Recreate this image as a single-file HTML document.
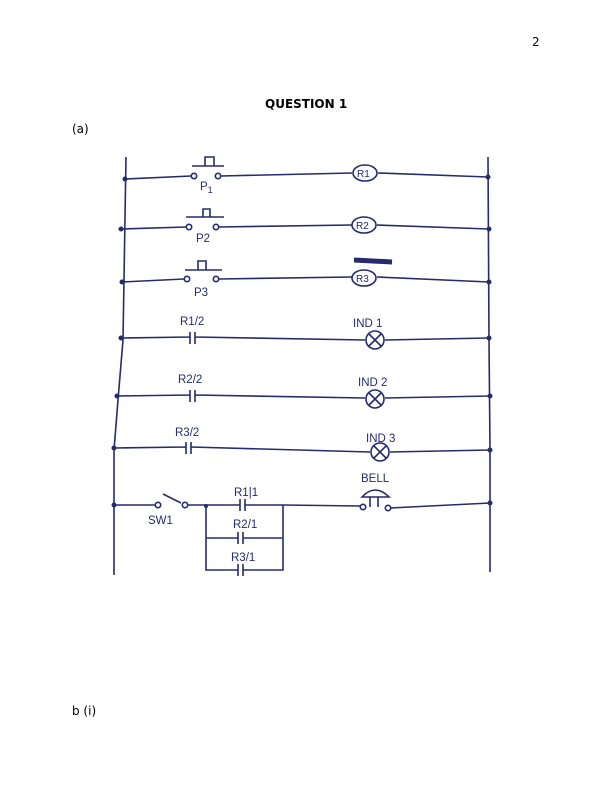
<!DOCTYPE html>
<html><head><style>
body{margin:0;background:#fff;width:612px;height:792px;position:relative;font-family:"DejaVu Sans","Liberation Sans",sans-serif;}
.t{position:absolute;font-size:12px;color:#000;}
svg{position:absolute;left:0;top:0;}
</style></head><body>
<div class="t" style="left:532px;top:35px;">2</div>
<div class="t" style="left:265px;top:97px;font-weight:bold;">QUESTION 1</div>
<div class="t" style="left:72px;top:122px;">(a)</div>
<div class="t" style="left:72px;top:704px;">b (i)</div>
<svg width="612" height="792" viewBox="0 0 612 792" fill="none" stroke="#252b6c" stroke-width="1.6" font-family="Liberation Sans, sans-serif">
<path d="M126 157 L123 340 L118 400 L114 450 L114 575"/>
<path d="M488 157 L489 340 L490 450 L490 572"/>
<g fill="#252b6c" stroke="none">
<circle cx="125" cy="179" r="2.5"/><circle cx="121" cy="229" r="2.5"/><circle cx="122" cy="282" r="2.5"/>
<circle cx="121" cy="338" r="2.5"/><circle cx="117" cy="396" r="2.5"/><circle cx="114" cy="448" r="2.5"/><circle cx="114" cy="505" r="2.5"/>
<circle cx="488" cy="177" r="2.5"/><circle cx="489" cy="229" r="2.5"/><circle cx="489" cy="282" r="2.5"/>
<circle cx="489" cy="338" r="2.5"/><circle cx="490" cy="396" r="2.5"/><circle cx="490" cy="450" r="2.5"/><circle cx="490" cy="503" r="2.5"/>
<circle cx="206" cy="506" r="2"/>
</g>
<path d="M125 179 L191 176 M221 176 L352 173 M378 173 L488 177"/>
<circle cx="194" cy="176" r="2.7"/><circle cx="218" cy="176" r="2.7"/>
<path d="M192 166 L224 166 M205 166 L205 157 L214 157 L214 166"/>
<ellipse cx="365" cy="173" rx="12" ry="8"/>
<path d="M121 229 L186 227 M219 227 L352 225 M377 225 L489 229"/>
<circle cx="189" cy="227" r="2.7"/><circle cx="216" cy="227" r="2.7"/>
<path d="M186 217 L224 217 M203 217 L203 209 L210 209 L210 217"/>
<ellipse cx="364" cy="225" rx="12" ry="8"/>
<path d="M122 282 L184 279 M219 279 L352 277 M377 277 L489 282"/>
<circle cx="187" cy="279" r="2.7"/><circle cx="216" cy="279" r="2.7"/>
<path d="M185 270 L222 270 M198 270 L198 261 L206 261 L206 270"/>
<ellipse cx="364" cy="278" rx="12" ry="8"/>
<path d="M354 260 L392 262" stroke-width="5"/>
<path d="M121 338 L190 337 M195 337 L365 340 M385 340 L489 338 M190 332 L190 344 M195 332 L195 344"/>
<circle cx="375" cy="340" r="9"/><path d="M369 334 L381 346 M381 334 L369 346"/>
<path d="M117 396 L190 395 M195 395 L365 398 M385 398 L490 396 M190 390 L190 402 M195 390 L195 402"/>
<circle cx="375" cy="399" r="9"/><path d="M369 393 L381 405 M381 393 L369 405"/>
<path d="M114 448 L186 447 M191 447 L370 452 M390 452 L490 450 M186 442 L186 454 M191 442 L191 454"/>
<circle cx="380" cy="452" r="9"/><path d="M374 446 L386 458 M386 446 L374 458"/>
<path d="M114 505 L155 505 M188 505 L240 505 M245 505 L283 505 L360 506 M390 508 L490 503"/>
<circle cx="158" cy="505" r="2.7"/><circle cx="185" cy="505" r="2.7"/>
<path d="M163 494 L181 503"/>
<path d="M206 505 L206 570 L238 570 M243 570 L283 570 L283 505 M206 538 L238 538 M243 538 L283 538"/>
<path d="M240 499 L240 511 M245 499 L245 511 M238 532 L238 544 M243 532 L243 544 M238 564 L238 576 M243 564 L243 576"/>
<circle cx="363" cy="507" r="2.7"/><circle cx="388" cy="508" r="2.7"/>
<path d="M362 497 Q375 483 389 497 Z M370 497 L370 507 M378 497 L378 507"/>
<g fill="#252b6c" stroke="none" font-size="11.5">
<text x="200" y="190">P<tspan font-size="9" dy="3">1</tspan></text>
<text x="196" y="242">P2</text>
<text x="194" y="296">P3</text>
<text x="357" y="177" font-size="10">R1</text>
<text x="356" y="229" font-size="10">R2</text>
<text x="356" y="282" font-size="10">R3</text>
<text x="180" y="325">R1/2</text>
<text x="178" y="383">R2/2</text>
<text x="175" y="436">R3/2</text>
<text x="353" y="327">IND 1</text>
<text x="358" y="386">IND 2</text>
<text x="366" y="442">IND 3</text>
<text x="361" y="482">BELL</text>
<text x="148" y="524">SW1</text>
<text x="234" y="496">R1|1</text>
<text x="233" y="528">R2/1</text>
<text x="231" y="561">R3/1</text>
</g>
</svg>
</body></html>
